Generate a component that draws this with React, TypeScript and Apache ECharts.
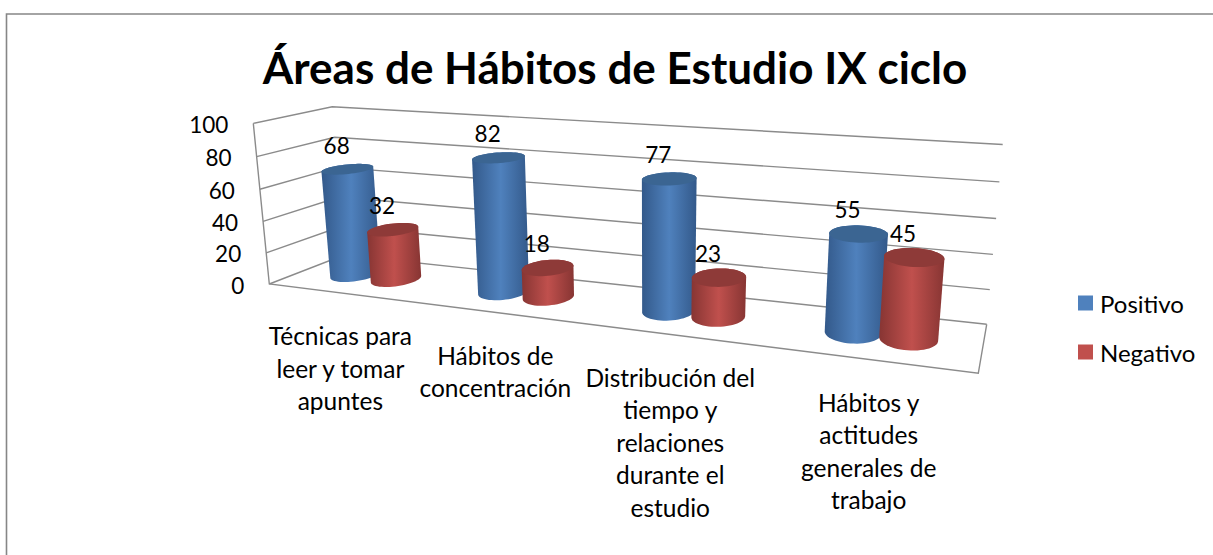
import React, { useEffect, useRef } from "react";
import * as echarts from "echarts";

const titleText = "Áreas de Hábitos de Estudio IX ciclo";
const categories = [
  "Técnicas para\nleer y tomar\napuntes",
  "Hábitos de\nconcentración",
  "Distribución del\ntiempo y\nrelaciones\ndurante el\nestudio",
  "Hábitos y\nactitudes\ngenerales de\ntrabajo",
];
const positivo = [68, 82, 77, 55];
const negativo = [32, 18, 23, 45];
const yTicks = [0, 20, 40, 60, 80, 100];

const FONT = "Lato";
const LABEL_FONT = `normal 24.5px ${FONT}`;
const NUMBER_FONT = `normal 22.5px ${FONT}`;
const GRID_COLOR = "#8b8b8b";
const BLUE = { main: "#4f81bd", edge: "#33598a", top: "#3b6592" };
const RED = { main: "#c0504d", edge: "#873533", top: "#8e3a38" };

// Floor corners of the 3D box on the page (front/back, left/right) and vanishing point of its verticals
const A = [269.3, 284];
const B = [978.3, 373.3];
const D = [986.7, 324.3];
const C = [344, 255];
const VP = [650, 4109];

const det = (p: number[], q: number[]) => p[0] * q[1] - p[1] * q[0];
const dx1 = [B[0] - D[0], B[1] - D[1]];
const dx2 = [C[0] - D[0], C[1] - D[1]];
const sum = [A[0] - B[0] + D[0] - C[0], A[1] - B[1] + D[1] - C[1]];
const g = det(sum, dx2) / det(dx1, dx2);
const h = det(dx1, sum) / det(dx1, dx2);

function project(u: number, d: number, s: number): number[] {
  const lambda = (0.0403 + 0.0007 * d - 0.0025 * u) * s;
  const w = 1 + g * u + h * d;
  const nx = (B[0] * (1 + g) - A[0]) * u + (C[0] * (1 + h) - A[0]) * d + A[0];
  const ny = (B[1] * (1 + g) - A[1]) * u + (C[1] * (1 + h) - A[1]) * d + A[1];
  return [(nx - lambda * VP[0]) / (w - lambda), (ny - lambda * VP[1]) / (w - lambda)];
}

const barWarp = (u: number) => u + 0.06 * (u - 0.07) * (1 - u);
const labelWarp = (u: number) => u + 0.05 * u * (1 - u);
const halfSpacing = (u: number) => 0.038 - 0.0052 * u;
const BAR_RADIUS = 0.0345;

function hull(pts: number[][]): number[][] {
  const p = pts.slice().sort((a, b) => a[0] - b[0] || a[1] - b[1]);
  const cross = (o: number[], a: number[], b: number[]) =>
    (a[0] - o[0]) * (b[1] - o[1]) - (a[1] - o[1]) * (b[0] - o[0]);
  const lo: number[][] = [];
  for (const q of p) {
    while (lo.length >= 2 && cross(lo[lo.length - 2], lo[lo.length - 1], q) <= 0) lo.pop();
    lo.push(q);
  }
  const up: number[][] = [];
  for (let i = p.length - 1; i >= 0; i--) {
    const q = p[i];
    while (up.length >= 2 && cross(up[up.length - 2], up[up.length - 1], q) <= 0) up.pop();
    up.push(q);
  }
  return lo.slice(0, -1).concat(up.slice(0, -1));
}

function ring(u: number, ru: number, s: number): number[][] {
  const out: number[][] = [];
  for (let k = 0; k < 56; k++) {
    const t = (k / 56) * Math.PI * 2;
    out.push(project(u + ru * Math.cos(t), 0.5 + 0.24 * Math.sin(t), s));
  }
  return out;
}

function normalise(params: any, api: any, i: number, v: number) {
  const c = api.coord([i, v]);
  const sys = params.coordSys;
  return { u: (c[0] - sys.x) / sys.width, s: (sys.y + sys.height - c[1]) / sys.height };
}

const cylinder = (side: number, col: typeof BLUE) => (params: any, api: any) => {
  const i = api.value(0);
  const v = api.value(1);
  const { u: raw, s } = normalise(params, api, i, v);
  const uc = barWarp(raw);
  const u = uc + side * halfSpacing(uc);
  const top = ring(u, BAR_RADIUS, s);
  const bottom = ring(u, BAR_RADIUS, 0);
  const center = project(u, 0.5, s);
  return {
    type: "group",
    children: [
      {
        type: "polygon",
        shape: { points: hull(top.concat(bottom)) },
        style: {
          fill: new echarts.graphic.LinearGradient(0, 0, 1, 0, [
            { offset: 0, color: col.edge },
            { offset: 0.5, color: col.main },
            { offset: 1, color: col.edge },
          ]),
        },
      },
      { type: "polygon", shape: { points: top }, style: { fill: col.top } },
      {
        type: "text",
        style: {
          text: String(v),
          x: center[0] - 11,
          y: center[1] - 24,
          font: NUMBER_FONT,
          fill: "#000",
          textAlign: "center",
          textVerticalAlign: "middle",
        },
      },
    ],
  };
};

const wallsItem = (params: any, api: any) => {
  const tick = api.value(1);
  const { s } = normalise(params, api, 0, tick);
  const f = project(0, 0, s);
  const b = project(0, 1, s);
  const r = project(1, 1, s);
  const line = { stroke: GRID_COLOR, lineWidth: 1.4, fill: "none" };
  const children: any[] = [
    { type: "polyline", shape: { points: [f, b, r] }, style: line },
    {
      type: "text",
      style: {
        text: String(tick),
        x: f[0] - 25,
        y: f[1] + 1,
        font: NUMBER_FONT,
        fill: "#000",
        textAlign: "right",
        textVerticalAlign: "middle",
      },
    },
  ];
  if (tick === 0) {
    children.push({
      type: "polyline",
      shape: { points: [project(0, 0, 1), f, project(1, 0, 0), project(1, 1, 0)] },
      style: line,
    });
  }
  return { type: "group", children };
};

const categoryLabelItem = (params: any, api: any) => {
  const i = api.value(0);
  const { u } = normalise(params, api, i, 0);
  const p = project(labelWarp(u), 0, 0);
  return {
    type: "text",
    style: {
      text: categories[i],
      x: p[0],
      y: p[1] + 26.5,
      font: LABEL_FONT,
      lineHeight: 32.5,
      fill: "#000",
      textAlign: "center",
      textVerticalAlign: "top",
    },
  };
};

export default function App() {
  const ref = useRef<HTMLDivElement>(null);
  useEffect(() => {
    const chart = echarts.init(ref.current!, undefined, { renderer: "svg" });
    chart.setOption({
      animation: false,
      backgroundColor: "#fff",
      title: {
        text: titleText,
        left: 610,
        top: 40,
        textAlign: "center",
        textStyle: { fontFamily: FONT, fontWeight: "bold", fontSize: 44, color: "#000" },
      },
      legend: {
        data: ["Positivo", "Negativo"],
        orient: "vertical",
        left: 1073,
        top: 286,
        itemWidth: 15,
        itemHeight: 15,
        itemGap: 25,
        icon: "rect",
        textStyle: { fontFamily: FONT, fontSize: 24, color: "#000", padding: [0, 0, 0, 2] },
      },
      grid: { left: 100, right: 100, top: 100, bottom: 100 },
      xAxis: { type: "category", data: categories, show: false },
      yAxis: { type: "value", min: 0, max: 100, interval: 20, show: false },
      series: [
        {
          type: "custom",
          name: "walls",
          renderItem: wallsItem,
          data: yTicks.map((t) => [0, t]),
          z: 1,
          silent: true,
        },
        {
          type: "custom",
          name: "Positivo",
          renderItem: cylinder(-1, BLUE),
          data: positivo.map((v, i) => [i, v]),
          itemStyle: { color: BLUE.main },
          z: 2,
        },
        {
          type: "custom",
          name: "Negativo",
          renderItem: cylinder(1, RED),
          data: negativo.map((v, i) => [i, v]),
          itemStyle: { color: RED.main },
          z: 3,
        },
        {
          type: "custom",
          name: "categorias",
          renderItem: categoryLabelItem,
          data: categories.map((_, i) => [i, 0]),
          z: 4,
          silent: true,
        },
      ],
      graphic: [
        {
          type: "polyline",
          shape: { points: [[6.5, 555], [6.5, 14], [1213, 14]] },
          style: { stroke: "#868686", lineWidth: 1.6, fill: "none" },
          z: 0,
        },
      ],
    });
    return () => chart.dispose();
  }, []);
  return (
    <div
      ref={ref}
      style={{ position: "absolute", left: 0, top: 0, width: 1213, height: 555 }}
    />
  );
}
